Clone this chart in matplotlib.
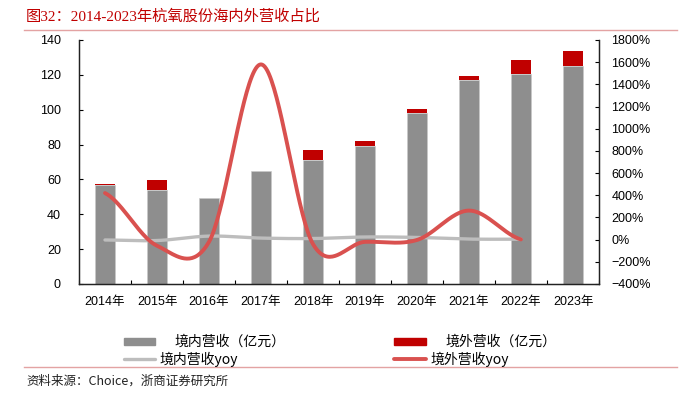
import matplotlib
matplotlib.use("Agg")
import matplotlib.pyplot as plt
import numpy as np
from matplotlib.patches import Rectangle
from matplotlib.lines import Line2D

plt.rcParams['font.family'] = ['Liberation Sans', 'Noto Sans CJK SC']
plt.rcParams['axes.unicode_minus'] = True

# ── data ─────────────────────────────────────────────────────────────────────
years = ["2014年", "2015年", "2016年", "2017年", "2018年",
         "2019年", "2020年", "2021年", "2022年", "2023年"]
domestic = [56.8, 53.9, 49.2, 64.6, 71.1, 79.0, 97.9, 117.0, 120.5, 125.2]
overseas = [0.7, 5.6, 0.4, 0.3, 5.6, 2.9, 2.5, 2.1, 8.0, 8.3]
domestic_yoy = [-3, -8, 32, 14, 10, 24, 20, 5, 4]
overseas_yoy = [420, -55, -20, 1580, -40, -20, -3, 262, 2]

# ── style ────────────────────────────────────────────────────────────────────
C_DOM = "#8E8E8E"
C_OVS = "#C00000"
C_DOM_L = "#BDBDBD"
C_OVS_L = "#D9514F"
C_TITLE = "#C00000"
C_RULE = "#E3A3A3"
CJK = ['Noto Sans CJK SC', 'DejaVu Sans']
SERIF_CJK = ['Liberation Serif', 'Noto Sans CJK SC']


def smooth(y, n=40):
    """Excel-like smoothed line: Catmull-Rom through the points."""
    y = np.asarray(y, float)
    xs, ys = [], []
    for i in range(len(y) - 1):
        p0 = y[i - 1] if i > 0 else y[i]
        p3 = y[i + 2] if i + 2 < len(y) else y[i + 1]
        m1 = (y[i + 1] - p0) / 2
        m2 = (p3 - y[i]) / 2
        t = np.linspace(0, 1, n, endpoint=(i == len(y) - 2))
        h00 = 2*t**3 - 3*t**2 + 1
        h10 = t**3 - 2*t**2 + t
        h01 = -2*t**3 + 3*t**2
        h11 = t**3 - t**2
        xs.append(i + t)
        ys.append(h00*y[i] + h10*m1 + h01*y[i + 1] + h11*m2)
    return np.concatenate(xs), np.concatenate(ys)


W, H = 681, 398
fig = plt.figure(figsize=(W/100, H/100), dpi=100, facecolor="white")
ax = fig.add_axes([79/W, 1 - 284/H, 520/W, 244/H])
ax2 = ax.twinx()

x = np.arange(len(years))
ax.bar(x, domestic, width=0.38, color=C_DOM, edgecolor="#C8C8C8", linewidth=0.4, zorder=2)
ax.bar(x, overseas, width=0.38, bottom=domestic, color=C_OVS, linewidth=0, zorder=2)

sx, sy = smooth(domestic_yoy)
ax2.plot(sx, sy, color=C_DOM_L, lw=2.4, solid_capstyle="round", zorder=3)
sx, sy = smooth(overseas_yoy)
ax2.plot(sx, sy, color=C_OVS_L, lw=2.8, solid_capstyle="round", zorder=4)

ax.set_xlim(-0.5, 9.5)
ax.set_ylim(0, 140)
ax.set_yticks(np.arange(0, 141, 20))
ax2.set_ylim(-400, 1800)
ax2.set_yticks(np.arange(-400, 1801, 200))
ax2.set_yticklabels([f"{v}%".replace("-", "\u2212") for v in range(-400, 1801, 200)])

ax.set_xticks(x)
ax.set_xticklabels(years)
ax.set_xticks(np.arange(-0.5, 10, 1), minor=True)
ax.tick_params(axis="x", which="major", length=0, pad=9, labelsize=9)
ax.tick_params(axis="x", which="minor", direction="in", length=3, width=0.8)
ax.tick_params(axis="y", direction="in", length=3, width=0.8, pad=13, labelsize=9)
ax2.tick_params(axis="y", direction="in", length=3, width=0.8, pad=9, labelsize=9)

for a in (ax, ax2):
    a.spines["top"].set_visible(False)
    for s in a.spines.values():
        s.set_linewidth(0.9)
        s.set_color("#222222")
ax.set_zorder(1)
ax2.set_zorder(2)
ax.patch.set_visible(False)

# ── legend (drawn by hand to match the spacing) ─────────────────────────────
def px(xp, yp):
    return xp / W, 1 - yp / H

fig.add_artist(Rectangle(px(124, 345), 31/W, 7/H, color=C_DOM, transform=fig.transFigure))
fig.text(*px(174, 341.5), "境内营收（亿元）", family=CJK, fontsize=10, va="center")
fig.add_artist(Rectangle(px(394, 345), 32/W, 7/H, color=C_OVS, transform=fig.transFigure))
fig.text(*px(445, 341.5), "境外营收（亿元）", family=CJK, fontsize=10, va="center")

fig.add_artist(Line2D([124/W, 155/W], [1 - 359/H] * 2, color=C_DOM_L, lw=2.4,
                      solid_capstyle="round", transform=fig.transFigure))
fig.text(*px(159, 359), "境内营收yoy", family=CJK, fontsize=10, va="center")
fig.add_artist(Line2D([394/W, 426/W], [1 - 359/H] * 2, color=C_OVS_L, lw=2.8,
                      solid_capstyle="round", transform=fig.transFigure))
fig.text(*px(430, 359), "境外营收yoy", family=CJK, fontsize=10, va="center")

# ── title, rules, source ─────────────────────────────────────────────────────
fig.text(*px(26, 16), "图32：2014-2023年杭氧股份海内外营收占比", family=SERIF_CJK,
         fontsize=11, color=C_TITLE, va="center")
fig.add_artist(Line2D([24/W, 677/W], [1 - 29.5/H] * 2, color=C_RULE, lw=1.0,
                      transform=fig.transFigure))
fig.add_artist(Line2D([24/W, 677/W], [1 - 367/H] * 2, color=C_RULE, lw=1.0,
                      transform=fig.transFigure))
fig.text(*px(26, 381), "资料来源：Choice，浙商证券研究所", family=CJK, fontsize=9,
         color="#222222", va="center")

fig.savefig("out.png", dpi=100, facecolor="white")
